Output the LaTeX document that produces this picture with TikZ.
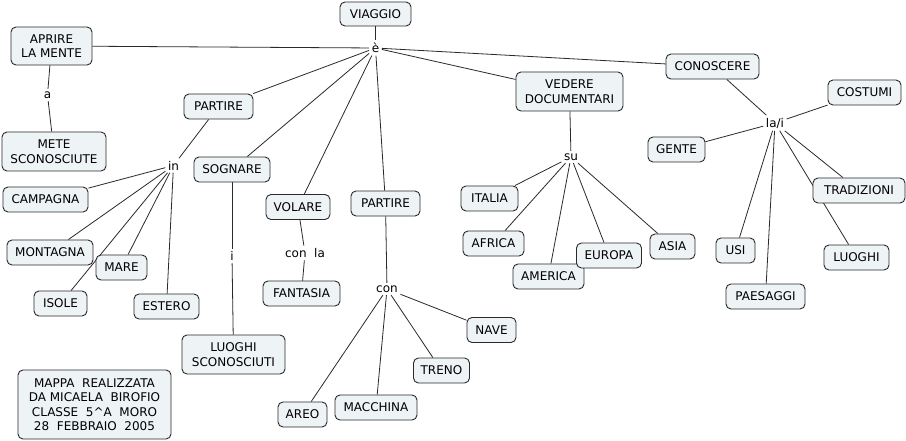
\documentclass[tikz,border=0pt]{standalone}
\usepackage{fontspec}
\setmainfont{DejaVu Sans}
\usetikzlibrary{backgrounds}
\definecolor{boxfill}{HTML}{EEF3F5}
\definecolor{linecol}{HTML}{2A2A2A}
\begin{document}
\begin{tikzpicture}[x=1pt,y=-1pt,
  box/.style={draw=linecol,fill=boxfill,rounded corners=5pt,line width=0.9pt,
    minimum height=25pt,inner sep=0pt,align=center,font=\fontsize{12}{14.5}\selectfont},
  lbl/.style={inner sep=2.5pt,font=\fontsize{12}{14.5}\selectfont},
  link/.style={draw=linecol,line width=0.8pt}]
\useasboundingbox (0,0) rectangle (906,441);
% concept boxes
\node[box,minimum width=71pt,minimum height=24pt] (viaggio) at (375.5,14) {VIAGGIO};
\node[box,minimum width=81pt,minimum height=38pt] (aprire) at (51.5,46) {APRIRE\\LA MENTE};
\node[box,minimum width=104pt,minimum height=39pt] (mete) at (54,151.5) {METE\\SCONOSCIUTE};
\node[box,minimum width=69pt] (partireA) at (218.5,106.5) {PARTIRE};
\node[box,minimum width=76pt] (sognare) at (232,169.5) {SOGNARE};
\node[box,minimum width=64pt] (volare) at (298,207) {VOLARE};
\node[box,minimum width=69pt] (partireB) at (385.5,203.5) {PARTIRE};
\node[box,minimum width=107pt,minimum height=39pt] (vedere) at (569.5,91.5) {VEDERE\\DOCUMENTARI};
\node[box,minimum width=93pt] (conoscere) at (712.5,66.5) {CONOSCERE};
\node[box,minimum width=73pt] (costumi) at (864.5,92.5) {COSTUMI};
\node[box,minimum width=57pt] (gente) at (676.5,149.5) {GENTE};
\node[box,minimum width=57pt] (italia) at (489.5,198.5) {ITALIA};
\node[box,minimum width=92pt] (tradizioni) at (859,190.5) {TRADIZIONI};
\node[box,minimum width=85pt] (campagna) at (45.5,199.5) {CAMPAGNA};
\node[box,minimum width=86pt] (montagna) at (50,252.5) {MONTAGNA};
\node[box,minimum width=51pt] (mare) at (121.5,267.5) {MARE};
\node[box,minimum width=53pt] (isole) at (60.5,303.5) {ISOLE};
\node[box,minimum width=65pt] (estero) at (166.5,306.5) {ESTERO};
\node[box,minimum width=77pt] (fantasia) at (301.5,293.5) {FANTASIA};
\node[box,minimum width=49pt] (nave) at (491.5,330) {NAVE};
\node[box,minimum width=56pt] (treno) at (441.5,370.5) {TRENO};
\node[box,minimum width=82pt] (macchina) at (376,407.5) {MACCHINA};
\node[box,minimum width=49pt] (areo) at (302.5,414.5) {AREO};
\node[box,minimum width=103pt,minimum height=39pt] (luoghiS) at (233.5,354.5) {LUOGHI\\SCONOSCIUTI};
\node[box,minimum width=153pt,minimum height=69pt] (mappa) at (94.5,404.5)
  {MAPPA\ \ REALIZZATA\\DA MICAELA\ \ BIROFIO\\CLASSE\ \ 5\textasciicircum A\ \ MORO\\28\ \ FEBBRAIO\ \ 2005};
\node[box,minimum width=61pt] (africa) at (493.5,243.5) {AFRICA};
\node[box,minimum width=71pt] (america) at (548.5,276.5) {AMERICA};
\node[box,minimum width=65pt] (europa) at (609,255.5) {EUROPA};
\node[box,minimum width=45pt] (asia) at (672.5,246.5) {ASIA};
\node[box,minimum width=39pt] (usi) at (735.5,250.5) {USI};
\node[box,minimum width=79pt] (paesaggi) at (765.5,296.5) {PAESAGGI};
\node[box,minimum width=65pt] (luoghiR) at (856.5,257.5) {LUOGHI};
% linking phrases
\node[lbl] (e) at (375.5,48) {è};
\node[lbl] (a) at (47.5,95) {a};
\node[lbl] (in) at (173.5,165.5) {in};
\node[lbl] (lai) at (775,123) {la/i};
\node[lbl] (su) at (571,157) {su};
\node[lbl] (i) at (232,256) {i};
\node[lbl] (conla) at (305,253) {con\ \ la};
\node[lbl] (con) at (387,289) {con};
% connectors
\begin{scope}[on background layer]
\fill[white] (0,0) rectangle (906,441);
\draw[link] (viaggio) -- (e);
\draw[link] (e) -- (aprire);
\draw[link] (e) -- (conoscere);
\draw[link] (e) -- (vedere);
\draw[link] (e) -- (partireA);
\draw[link] (e) -- (sognare);
\draw[link] (e) -- (volare);
\draw[link] (e) -- (partireB);
\draw[link] (aprire) -- (a);
\draw[link] (a) -- (mete);
\draw[link] (partireA) -- (in);
\draw[link] (in) -- (campagna);
\draw[link] (in) -- (montagna);
\draw[link] (in) -- (mare);
\draw[link] (in) -- (isole);
\draw[link] (in) -- (estero);
\draw[link] (sognare) -- (i);
\draw[link] (i) -- (luoghiS);
\draw[link] (volare) -- (conla);
\draw[link] (conla) -- (fantasia);
\draw[link] (partireB) -- (con);
\draw[link] (con) -- (nave);
\draw[link] (con) -- (treno);
\draw[link] (con) -- (macchina);
\draw[link] (con) -- (areo);
\draw[link] (vedere) -- (su);
\draw[link] (su) -- (italia);
\draw[link] (su) -- (africa);
\draw[link] (su) -- (america);
\draw[link] (su) -- (europa);
\draw[link] (su) -- (asia);
\draw[link] (conoscere) -- (lai);
\draw[link] (lai) -- (costumi);
\draw[link] (lai) -- (gente);
\draw[link] (lai) -- (tradizioni);
\draw[link] (lai) -- (luoghiR);
\draw[link] (lai) -- (usi);
\draw[link] (lai) -- (paesaggi);
\end{scope}
\end{tikzpicture}
\end{document}
